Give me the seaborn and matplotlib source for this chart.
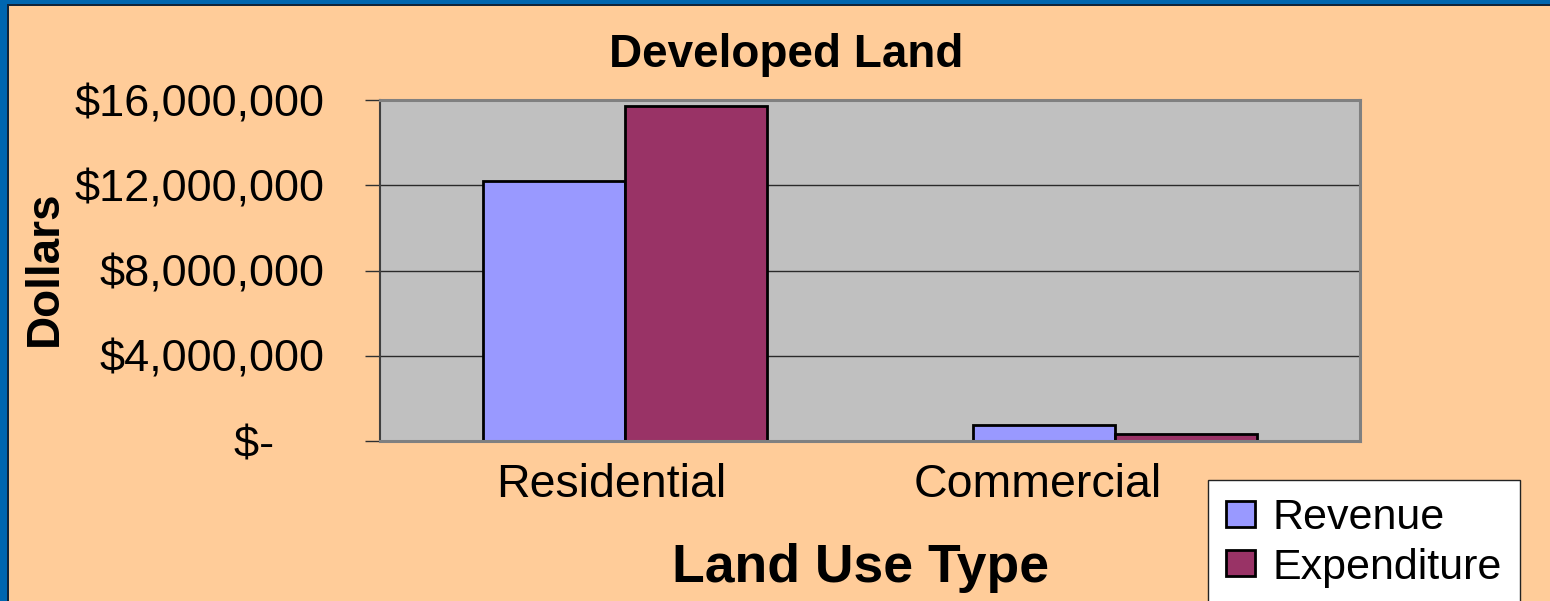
import matplotlib
matplotlib.use('Agg')
import matplotlib.pyplot as plt
import matplotlib.transforms as mtransforms
from matplotlib.patches import Rectangle
from matplotlib.ticker import FuncFormatter, FixedLocator
import seaborn as sns
import pandas as pd

# data
land_use = ['Residential', 'Commercial']
revenue = [12200000, 750000]
expenditure = [15720000, 315000]
series = ['Revenue', 'Expenditure']
yticks = [0, 4000000, 8000000, 12000000, 16000000]

df = pd.DataFrame({
    'Land Use Type': land_use * 2,
    'Dollars': revenue + expenditure,
    'Series': [series[0]] * len(land_use) + [series[1]] * len(land_use),
})

sns.set_style('white')
plt.rcParams['font.family'] = ['Liberation Sans', 'DejaVu Sans']
plt.rcParams['text.color'] = 'black'
plt.rcParams['xtick.color'] = 'black'
plt.rcParams['ytick.color'] = 'black'

W, H = 1550, 601
fig = plt.figure(figsize=(W / 100, H / 100), dpi=100)
fig.patch.set_facecolor('#FFCC99')

# slide border (blue strip top and left)
fig.add_artist(Rectangle((0, 1 - 4 / H), 1, 4 / H, transform=fig.transFigure,
                         facecolor='#0066B0', edgecolor='none'))
fig.add_artist(Rectangle((0, 1 - 5.5 / H), 1, 1.5 / H, transform=fig.transFigure,
                         facecolor='#10243A', edgecolor='none'))
fig.add_artist(Rectangle((0, 0), 7 / W, 1, transform=fig.transFigure,
                         facecolor='#0066B0', edgecolor='none'))
fig.add_artist(Rectangle((7 / W, 0), 1.5 / W, 1 - 4 / H, transform=fig.transFigure,
                         facecolor='#10243A', edgecolor='none'))

ax = fig.add_axes([380 / W, 160 / H, 980 / W, 341 / H])
ax.set_facecolor('#C0C0C0')

sns.barplot(data=df, x='Land Use Type', y='Dollars', hue='Series',
            palette=['#9999FF', '#993366'], width=0.578, saturation=1,
            edgecolor='black', linewidth=2, errorbar=None, ax=ax)

ax.set_xlim(-0.5, 1.5)
ax.set_ylim(0, 16000000)
ax.yaxis.set_major_locator(FixedLocator(yticks))
ax.yaxis.set_major_formatter(FuncFormatter(
    lambda v, _: '$-    ' if v == 0 else f'${v:,.0f}'))
ax.set_axisbelow(True)
ax.yaxis.grid(True, color='#2a2a2a', linewidth=1)
ax.xaxis.grid(False)

for side in ['top', 'right', 'bottom']:
    ax.spines[side].set_color('#808080')
    ax.spines[side].set_linewidth(2.2)
ax.spines['left'].set_color('#404040')
ax.spines['left'].set_linewidth(1.5)

ax.tick_params(axis='y', left=True, length=11, width=1, color='#303030',
               pad=29, labelsize=32.5, labelcolor='black')
ax.tick_params(axis='x', length=0, pad=16, labelsize=33.5, labelcolor='black')

# excel nudged the category labels left
for tick, dx in zip(ax.xaxis.get_major_ticks(), [-14, -77]):
    tick.label1.set_transform(tick.label1.get_transform() +
                              mtransforms.ScaledTranslation(dx / 100, 0, fig.dpi_scale_trans))

ax.set_xlabel('')
ax.set_ylabel('')

handles, labels = ax.get_legend_handles_labels()
ax.get_legend().remove()
leg = fig.legend(handles, labels, loc='upper left',
                 bbox_to_anchor=(1208 / W, (H - 480) / H), borderaxespad=0,
                 fontsize=31, frameon=True, fancybox=False, framealpha=1,
                 facecolor='white', edgecolor='#222222',
                 handlelength=0.68, handleheight=0.55, handletextpad=0.4,
                 labelspacing=0.22, borderpad=0.42)
leg.get_frame().set_linewidth(1)
for t in leg.get_texts():
    t.set_color('black')
for p in leg.get_patches():
    p.set_linewidth(2)
    p.set_edgecolor('black')

fig.text(786 / W, (H - 67) / H, 'Developed Land', ha='center', va='baseline',
         fontsize=33, fontweight='bold')
fig.text(861 / W, (H - 582) / H, 'Land Use Type', ha='center', va='baseline',
         fontsize=38.5, fontweight='bold')
fig.text(45 / W, (H - 268) / H, 'Dollars', ha='center', va='center',
         rotation=90, fontsize=33, fontweight='bold')

fig.savefig('out.png', dpi=100, facecolor=fig.get_facecolor())
